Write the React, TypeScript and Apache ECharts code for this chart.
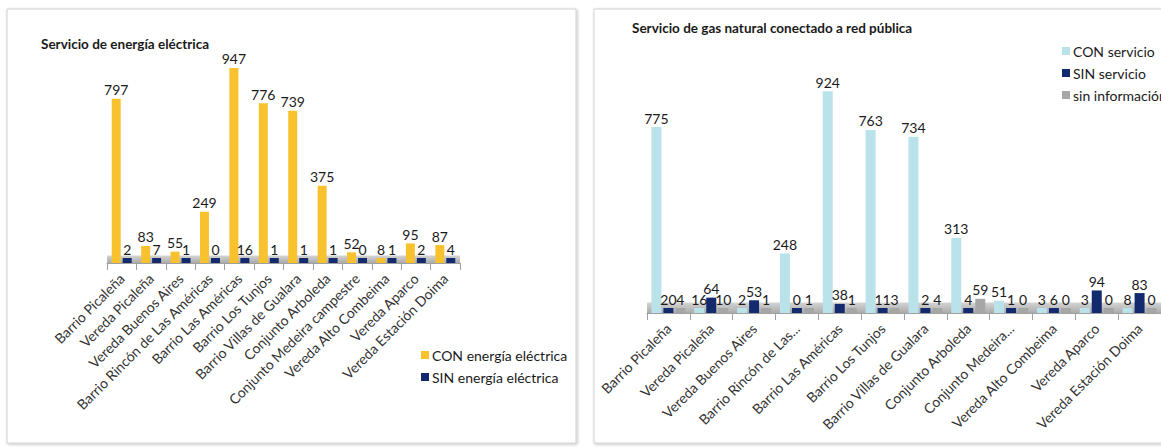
import React, { useEffect, useRef } from 'react';
import * as echarts from 'echarts';

const elecCategories = [
  'Barrio Picaleña',
  'Vereda Picaleña',
  'Vereda Buenos Aires',
  'Barrio Rincón de Las Américas',
  'Barrio Las Américas',
  'Barrio Los Tunjos',
  'Barrio Villas de Gualara',
  'Conjunto Arboleda',
  'Conjunto Medeira campestre',
  'Vereda Alto Combeima',
  'Vereda Aparco',
  'Vereda Estación Doima',
];
const elecCon = [797, 83, 55, 249, 947, 776, 739, 375, 52, 8, 95, 87];
const elecSin = [2, 7, 1, 0, 16, 1, 1, 1, 0, 1, 2, 4];

const gasCategories = [
  'Barrio Picaleña',
  'Vereda Picaleña',
  'Vereda Buenos Aires',
  'Barrio Rincón de Las...',
  'Barrio Las Américas',
  'Barrio Los Tunjos',
  'Barrio Villas de Gualara',
  'Conjunto Arboleda',
  'Conjunto Medeira...',
  'Vereda Alto Combeima',
  'Vereda Aparco',
  'Vereda Estación Doima',
];
const gasCon = [775, 16, 2, 248, 924, 763, 734, 313, 51, 3, 3, 8];
const gasSin = [20, 64, 53, 0, 38, 11, 2, 4, 1, 6, 94, 83];
const gasInfo = [4, 10, 1, 1, 1, 3, 4, 59, 0, 0, 0, 0];

const FONT = 'Lato, "Noto Sans", "Liberation Sans", sans-serif';
const YELLOW = '#f8c22f';
const NAVY = '#132b6e';
const LIGHTBLUE = '#b9e2eb';
const GREY = '#a6a6a6';

export default function App() {
  const ref = useRef<HTMLDivElement>(null);

  useEffect(() => {
    document.body.style.margin = '0';
    const chart = echarts.init(ref.current!, null, { renderer: 'svg' });

    const valueLabel = {
      show: true,
      position: 'top' as const,
      distance: 2,
      fontSize: 14,
      color: '#1a1a1a',
      fontFamily: FONT,
    };

    const floorStyle = {
      color: {
        type: 'linear', x: 0, y: 0, x2: 0, y2: 1,
        colorStops: [
          { offset: 0, color: '#d4d4d4' },
          { offset: 1, color: '#ababab' },
        ],
      },
    };

    const xAxisCommon = {
      type: 'category' as const,
      axisLine: { show: true, lineStyle: { color: '#a0a0a0', width: 1 } },
      axisTick: { show: true, length: 7, lineStyle: { color: '#a0a0a0' } },
      axisLabel: {
        interval: 0,
        rotate: 45,
        margin: 13,
        fontSize: 14,
        color: '#333333',
        fontFamily: FONT,
      },
    };

    chart.setOption({
      animation: false,
      textStyle: { fontFamily: FONT },
      graphic: [
        {
          type: 'rect',
          z: -10,
          shape: { x: 7, y: 9, width: 569, height: 434 },
          style: {
            fill: '#ffffff',
            stroke: '#d2d2d2',
            lineWidth: 1,
            shadowBlur: 3,
            shadowColor: 'rgba(0,0,0,0.25)',
            shadowOffsetX: 1,
            shadowOffsetY: 1,
          },
        },
        {
          type: 'rect',
          z: -10,
          shape: { x: 594, y: 9, width: 600, height: 434 },
          style: {
            fill: '#ffffff',
            stroke: '#d2d2d2',
            lineWidth: 1,
            shadowBlur: 3,
            shadowColor: 'rgba(0,0,0,0.25)',
            shadowOffsetX: 1,
            shadowOffsetY: 1,
          },
        },
      ],
      title: [
        {
          text: 'Servicio de energía eléctrica',
          left: 41,
          top: 37,
          padding: 0,
          textStyle: { fontSize: 13.5, fontWeight: 'bold', color: '#1a1a1a', fontFamily: FONT },
        },
        {
          text: 'Servicio de gas natural conectado a red pública',
          left: 632,
          top: 21,
          padding: 0,
          textStyle: { fontSize: 13.5, fontWeight: 'bold', color: '#1a1a1a', fontFamily: FONT },
        },
      ],
      legend: [
        {
          data: ['CON energía eléctrica', 'SIN energía eléctrica'],
          orient: 'vertical',
          left: 421,
          top: 348,
          padding: 0,
          icon: 'rect',
          itemWidth: 8,
          itemHeight: 8,
          itemGap: 8,
          textStyle: { fontSize: 14, color: '#1a1a1a', fontFamily: FONT, padding: [0, 0, 0, -2] },
        },
        {
          data: ['CON servicio', 'SIN servicio', 'sin información'],
          orient: 'vertical',
          left: 1062,
          top: 44,
          padding: 0,
          icon: 'rect',
          itemWidth: 8,
          itemHeight: 8,
          itemGap: 8,
          textStyle: { fontSize: 14, color: '#1a1a1a', fontFamily: FONT, padding: [0, 0, 0, -2] },
        },
      ],
      grid: [
        { left: 107, top: 57, width: 353, height: 206 },
        { left: 647, top: 73, width: 528, height: 240 },
      ],
      xAxis: [
        { ...xAxisCommon, gridIndex: 0, data: elecCategories },
        { ...xAxisCommon, gridIndex: 1, data: gasCategories },
      ],
      yAxis: [
        { type: 'value', gridIndex: 0, min: 0, max: 1000, show: false, splitLine: { show: false } },
        { type: 'value', gridIndex: 1, min: 0, max: 1000, show: false, splitLine: { show: false } },
      ],
      series: [
        {
          type: 'line',
          name: 'floor1',
          xAxisIndex: 0,
          yAxisIndex: 0,
          data: [],
          z: 1,
          silent: true,
          markArea: {
            silent: true,
            itemStyle: floorStyle,
            data: [[{ yAxis: 0 }, { yAxis: 36 }]],
          },
        },
        {
          type: 'line',
          name: 'floor2',
          xAxisIndex: 1,
          yAxisIndex: 1,
          data: [],
          z: 1,
          silent: true,
          markArea: {
            silent: true,
            itemStyle: floorStyle,
            data: [[{ yAxis: 0 }, { yAxis: 44 }]],
          },
        },
        {
          type: 'bar',
          name: 'CON energía eléctrica',
          xAxisIndex: 0,
          yAxisIndex: 0,
          data: elecCon,
          barWidth: 9,
          barGap: '22%',
          barMinHeight: 5,
          z: 3,
          itemStyle: { color: YELLOW },
          label: valueLabel,
        },
        {
          type: 'bar',
          name: 'SIN energía eléctrica',
          xAxisIndex: 0,
          yAxisIndex: 0,
          data: elecSin,
          barWidth: 9,
          barGap: '22%',
          barMinHeight: 5,
          z: 3,
          itemStyle: { color: NAVY },
          label: valueLabel,
        },
        {
          type: 'bar',
          name: 'CON servicio',
          xAxisIndex: 1,
          yAxisIndex: 1,
          data: gasCon,
          barWidth: 10,
          barGap: '20%',
          barMinHeight: 5,
          z: 3,
          itemStyle: { color: LIGHTBLUE },
          label: valueLabel,
        },
        {
          type: 'bar',
          name: 'SIN servicio',
          xAxisIndex: 1,
          yAxisIndex: 1,
          data: gasSin,
          barWidth: 10,
          barGap: '20%',
          barMinHeight: 5,
          z: 3,
          itemStyle: { color: NAVY },
          label: valueLabel,
        },
        {
          type: 'bar',
          name: 'sin información',
          xAxisIndex: 1,
          yAxisIndex: 1,
          data: gasInfo,
          barWidth: 10,
          barGap: '20%',
          barMinHeight: 5,
          z: 3,
          itemStyle: { color: GREY },
          label: valueLabel,
        },
      ],
    });

    return () => {
      chart.dispose();
    };
  }, []);

  return <div ref={ref} style={{ width: 1161, height: 447 }} />;
}
